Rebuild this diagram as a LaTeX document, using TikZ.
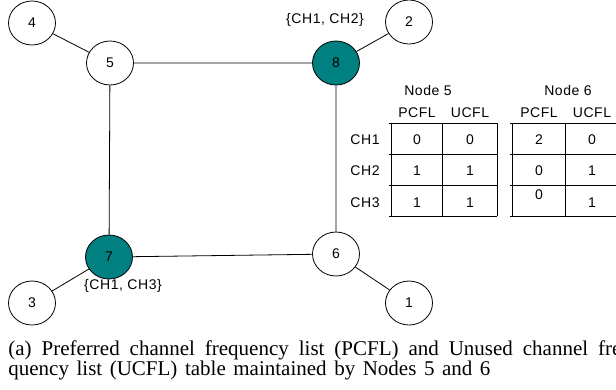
\documentclass[tikz,border=0pt]{standalone}
\usepackage{fontspec}
\setmainfont{Liberation Serif}
\newfontfamily\diafont{Liberation Sans}[LetterSpace=4]
\usepackage{tikz}
\usetikzlibrary{shapes.geometric}
\definecolor{chan}{HTML}{008080}

\tikzset{
  vtx/.style={draw,ellipse,minimum width=47pt,minimum height=44pt,inner sep=0pt,font=\diafont\fontsize{14}{14}\selectfont},
  busy/.style={vtx,fill=chan},
  lbl/.style={font=\diafont\fontsize{14}{14}\selectfont,inner sep=0pt},
  captxt/.style={anchor=base west,inner sep=0pt,font=\fontsize{21}{22}\selectfont},
}

\begin{document}
\begin{tikzpicture}[x=1pt,y=-1pt,line width=0.8pt]
  \useasboundingbox (0,0) rectangle (616,389);
  % nodes of the network
  \node[vtx]  (n4) at (32,23)  {4};
  \node[vtx]  (n5) at (110,63) {5};
  \node[busy] (n8) at (336,63) {8};
  \node[vtx]  (n2) at (409,22) {2};
  \node[busy] (n7) at (109,257) {7};
  \node[vtx]  (n3) at (32,303) {3};
  \node[vtx]  (n6) at (336,254) {6};
  \node[vtx]  (n1) at (409,303) {1};
  \draw (n4)--(n5) (n5)--(n8) (n8)--(n2) (n5)--(n7)
        (n8)--(n6) (n7)--(n6) (n7)--(n3) (n6)--(n1);
  \node[lbl] (s8) at (325,20)  {\{CH1, CH2\}};
  \node[lbl] (s7) at (123,286) {\{CH1, CH3\}};

  % PCFL / UCFL tables
  \draw (389,123)--(497,123) (389,154)--(497,154) (389,185)--(497,185) (389,216)--(497,216);
  \draw (391,123)--(391,216) (442,123)--(442,216) (497,123)--(497,216);
  \draw (510,123)--(620,123) (510,154)--(620,154) (510,185)--(620,185) (510,216)--(620,216);
  \draw (512,123)--(512,216) (565,123)--(565,216) (618,123)--(618,216);
  \node[lbl] (t5) at (428,90) {Node 5};
  \node[lbl] (t6) at (568,90) {Node 6};
  \foreach \x/\h/\t in {417/a/PCFL,470/b/UCFL,539/c/PCFL,592/d/UCFL}
    \node[lbl] (h\h) at (\x,113) {\t};
  \foreach \y/\c in {140/1,171/2,203/3}
    \node[lbl] (ch\c) at (365,\y) {CH\c};
  \foreach \y/\r/\p/\u/\v in {140/1/0/0/0,171/2/1/1/1,203/3/1/1/1}{
    \node[lbl] (p5\r) at (417,\y) {\p};
    \node[lbl] (u5\r) at (470,\y) {\u};
    \node[lbl] (u6\r) at (592,\y) {\v};
  }
  \node[lbl] (p61) at (539,140) {2};
  \node[lbl] (p62) at (539,171) {0};
  \node[lbl] (p63) at (539,195) {0};

  % caption
  \node[captxt] (cap1) at (8,355)
    {\makebox[620pt][s]{(a) Preferred channel frequency list (PCFL) and Unused channel fre-}};
  \node[captxt] (cap2) at (8,375)
    {\makebox[482pt][s]{quency list (UCFL) table maintained by Nodes 5 and 6}};
\end{tikzpicture}
\end{document}
